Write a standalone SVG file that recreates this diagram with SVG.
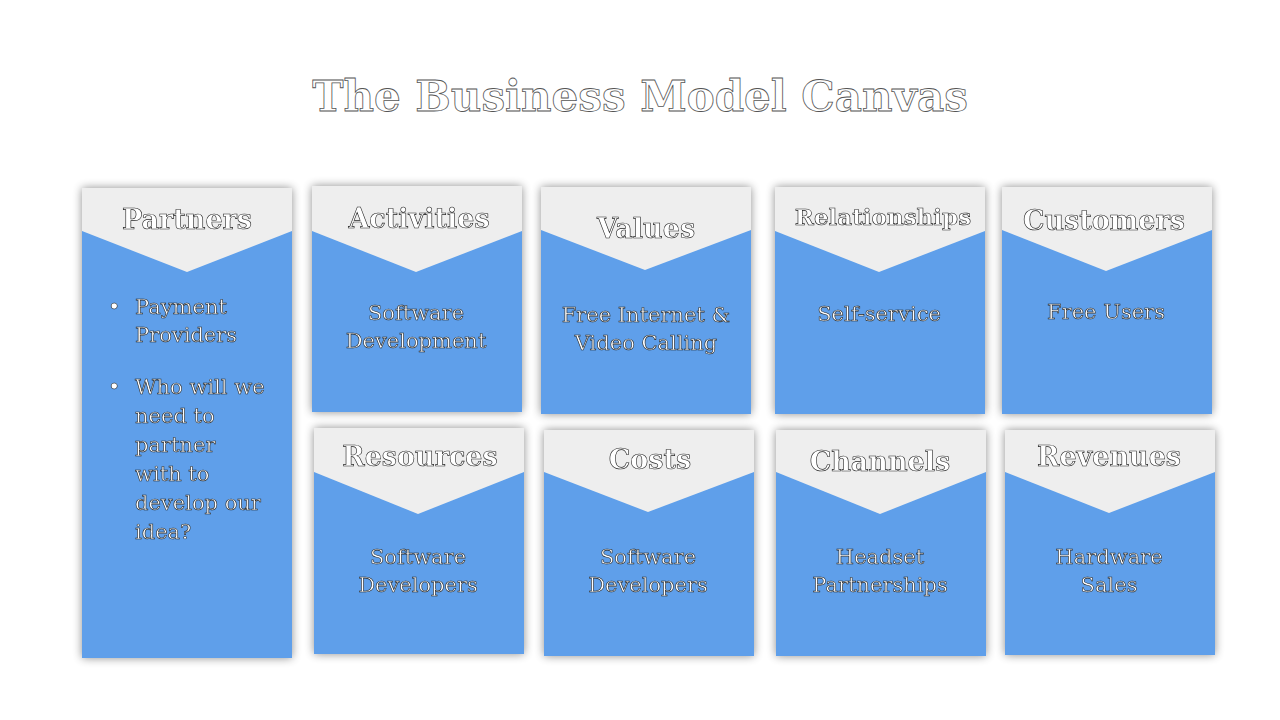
<svg xmlns="http://www.w3.org/2000/svg" width="1280" height="720" viewBox="0 0 1280 720">
<defs>
<filter id="sh" x="-20%" y="-20%" width="140%" height="140%"><feGaussianBlur in="SourceAlpha" stdDeviation="5"/><feOffset dx="0" dy="0"/><feComponentTransfer><feFuncA type="linear" slope="0.45"/></feComponentTransfer><feMerge><feMergeNode/><feMergeNode in="SourceGraphic"/></feMerge></filter>
</defs>
<style>
.box{fill:#5e9fea}
.hd{fill:#eeeeee}
text{font-family:"DejaVu Serif",serif;fill:#fff;stroke:#222;stroke-width:0.6;text-anchor:middle}
.t{font-size:27px;font-weight:bold}
.b{font-size:21px}
.ti{font-size:42px;font-weight:bold;stroke:#555;stroke-width:0.8}
</style>
<rect width="1280" height="720" fill="#fff"/>
<text class="ti" x="640" y="111">The Business Model Canvas</text>
<g id="partners" filter="url(#sh)"><rect class="box" x="82" y="188" width="210" height="470"/><polygon class="hd" points="82,188 292,188 292,231 187,272 82,231"/>
<text class="t" x="187" y="229">Partners</text>
<g style="text-anchor:start"><text class="b" x="108" y="314" style="text-anchor:start">•</text><text class="b" x="135" y="314" style="text-anchor:start">Payment</text><text class="b" x="135" y="342" style="text-anchor:start">Providers</text>
<text class="b" x="108" y="394" style="text-anchor:start">•</text><text class="b" x="135" y="394" style="text-anchor:start">Who will we</text><text class="b" x="135" y="423" style="text-anchor:start">need to</text><text class="b" x="135" y="452" style="text-anchor:start">partner</text><text class="b" x="135" y="481" style="text-anchor:start">with to</text><text class="b" x="135" y="510" style="text-anchor:start">develop our</text><text class="b" x="135" y="539" style="text-anchor:start">idea?</text></g></g>
<g id="activities" filter="url(#sh)"><rect class="box" x="312" y="186" width="210" height="226"/><polygon class="hd" points="312,186 522,186 522,231 416,272 312,231"/><text class="t" x="419" y="228">Activities</text><text class="b" x="416" y="320">Software</text><text class="b" x="416" y="348">Development</text></g>
<g id="values" filter="url(#sh)"><rect class="box" x="541" y="187" width="210" height="227"/><polygon class="hd" points="541,187 751,187 751,230 645,270 541,230"/><text class="t" x="646" y="238">Values</text><text class="b" x="646" y="322">Free Internet &amp;</text><text class="b" x="646" y="350">Video Calling</text></g>
<g id="relationships" filter="url(#sh)"><rect class="box" x="775" y="187" width="210" height="227"/><polygon class="hd" points="775,187 985,187 985,231 879,272 775,231"/><text class="t" x="883" y="225" style="font-size:23px">Relationships</text><text class="b" x="879" y="321">Self-service</text></g>
<g id="customers" filter="url(#sh)"><rect class="box" x="1002" y="187" width="210" height="227"/><polygon class="hd" points="1002,187 1212,187 1212,230 1106,271 1002,230"/><text class="t" x="1104" y="230">Customers</text><text class="b" x="1106" y="319">Free Users</text></g>
<g id="resources" filter="url(#sh)"><rect class="box" x="314" y="428" width="210" height="226"/><polygon class="hd" points="314,428 524,428 524,472 418,514 314,472"/><text class="t" x="420" y="466">Resources</text><text class="b" x="418" y="564">Software</text><text class="b" x="418" y="592">Developers</text></g>
<g id="costs" filter="url(#sh)"><rect class="box" x="544" y="430" width="210" height="226"/><polygon class="hd" points="544,430 754,430 754,472 648,512 544,472"/><text class="t" x="650" y="469">Costs</text><text class="b" x="648" y="564">Software</text><text class="b" x="648" y="592">Developers</text></g>
<g id="channels" filter="url(#sh)"><rect class="box" x="776" y="430" width="210" height="226"/><polygon class="hd" points="776,430 986,430 986,472 880,514 776,472"/><text class="t" x="880" y="471">Channels</text><text class="b" x="880" y="564">Headset</text><text class="b" x="880" y="592">Partnerships</text></g>
<g id="revenues" filter="url(#sh)"><rect class="box" x="1005" y="430" width="210" height="225"/><polygon class="hd" points="1005,430 1215,430 1215,472 1109,513 1005,472"/><text class="t" x="1109" y="466">Revenues</text><text class="b" x="1109" y="564">Hardware</text><text class="b" x="1109" y="592">Sales</text></g>
<g id="connectors"/>
</svg>
